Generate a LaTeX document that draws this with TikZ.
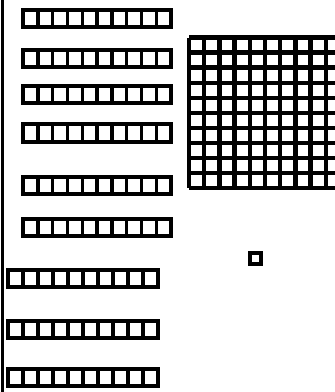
\documentclass[tikz,border=0pt]{standalone}
\begin{document}
\begin{tikzpicture}[x=1pt,y=-1pt,
  rodframe/.style={line width=4pt,black},
  roddiv/.style={line width=3.4pt,black},
  flatline/.style={line width=4.3pt,black}]
\useasboundingbox (0,0) rectangle (335,392);
\fill[white] (0,0) rectangle (335,392);
% left margin line
\draw[line width=2.6pt] (2.4,0) -- (2.4,392);
% ten-rods
\foreach \x/\y/\w/\h in {23/10/148/17, 23/50/148/17, 23/86/148/17, 23/124/148/18,
                         23/177/148/17, 23/219/148/17,
                         8/270/150/17, 8/321/150/17, 8/369/150/17}{
  \draw[rodframe] (\x,\y) rectangle ++(\w,\h);
  \foreach \i in {1,...,9}
    \draw[roddiv] (\x+\i*\w/10,\y) -- ++(0,\h);
}
% hundred-flat (cut off at the right edge)
\begin{scope}
  \clip (0,0) rectangle (335,392);
  \foreach \i in {0,...,10}{
    \draw[flatline] (189+\i*15.2,37.5) -- (189+\i*15.2,188);
    \draw[flatline] (189,37.5+\i*15.05) -- (341,37.5+\i*15.05);
  }
\end{scope}
% unit cube
\draw[line width=3.4pt] (250,253) rectangle (261,264);
\end{tikzpicture}
\end{document}
